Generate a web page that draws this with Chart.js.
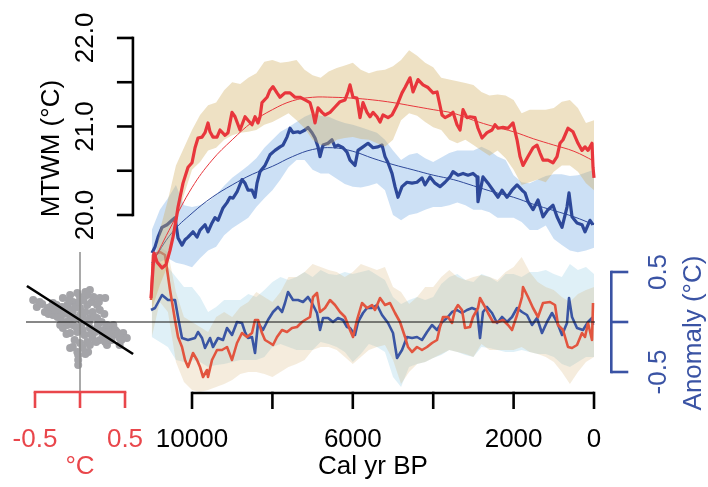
<!DOCTYPE html>
<html>
<head>
<meta charset="utf-8">
<script src="https://cdn.jsdelivr.net/npm/chart.js@4.4.1/dist/chart.umd.min.js"></script>
<style>
  html, body { margin: 0; padding: 0; background: #fff; }
  canvas { display: block; }
</style>
</head>
<body>
<canvas id="chart" width="708" height="487"></canvas>
<script>
/* ---- data (cal yr BP, °C) ---- */

// band grid (200-yr steps)
const years = [11000, 10800, 10600, 10400, 10200, 10000, 9800, 9600, 9400, 9200,
  9000, 8800, 8600, 8400, 8200, 8000, 7800, 7600, 7400, 7200,
  7000, 6800, 6600, 6400, 6200, 6000, 5800, 5600, 5400, 5200,
  5000, 4800, 4600, 4400, 4200, 4000, 3800, 3600, 3400, 3200,
  3000, 2800, 2600, 2400, 2200, 2000, 1800, 1600, 1400, 1200,
  1000, 800, 600, 400, 200, 0];

// MTWM, red record
const redYears = [11020, 10945, 10871, 10746, 10647, 10547, 10473, 10398, 10348, 10224,
  10099, 10000, 9925, 9851, 9751, 9677, 9602, 9552, 9478, 9378,
  9304, 9179, 9104, 9005, 8930, 8806, 8681, 8607, 8507, 8433,
  8358, 8308, 8259, 8134, 8060, 7985, 7886, 7811, 7687, 7562,
  7438, 7313, 7189, 7065, 6990, 6940, 6866, 6766, 6692, 6567,
  6443, 6318, 6194, 6120, 6070, 5995, 5896, 5821, 5746, 5647,
  5572, 5497, 5398, 5323, 5249, 5124, 5025, 4900, 4776, 4701,
  4577, 4502, 4378, 4254, 4129, 4005, 3905, 3781, 3706, 3582,
  3507, 3408, 3333, 3258, 3159, 3084, 2960, 2886, 2786, 2662,
  2537, 2463, 2388, 2264, 2139, 2015, 1915, 1841, 1766, 1642,
  1517, 1418, 1343, 1269, 1144, 1020, 920, 846, 771, 647,
  522, 398, 299, 224, 149, 50, 25, 0];
const redMTWM = [19.06, 19.57, 19.47, 19.40, 19.44, 19.60, 19.75, 19.94, 20.09, 20.36,
  20.54, 20.59, 20.76, 20.87, 20.88, 20.93, 21.04, 20.94, 20.88, 20.88,
  20.96, 20.90, 20.93, 21.16, 21.11, 20.96, 21.11, 21.07, 21.02, 21.11,
  21.04, 21.11, 21.27, 21.33, 21.41, 21.45, 21.38, 21.33, 21.38, 21.38,
  21.33, 21.33, 21.30, 21.27, 21.15, 21.04, 21.21, 21.16, 21.13, 21.16,
  21.22, 21.28, 21.30, 21.39, 21.47, 21.33, 21.32, 21.10, 21.27, 21.16,
  21.11, 21.16, 21.11, 21.05, 21.13, 21.10, 21.13, 21.24, 21.38, 21.44,
  21.55, 21.39, 21.53, 21.47, 21.44, 21.38, 21.39, 21.13, 21.10, 21.13,
  21.16, 21.02, 20.96, 21.19, 21.10, 21.11, 21.10, 20.98, 20.87, 20.93,
  20.96, 21.02, 20.98, 20.99, 20.98, 21.04, 20.85, 20.66, 20.56, 20.66,
  20.76, 20.79, 20.70, 20.62, 20.62, 20.59, 20.66, 20.81, 20.85, 20.98,
  20.94, 20.81, 20.73, 20.77, 20.73, 20.81, 20.54, 20.42];
const redHi = [19.27, 19.83, 20.17, 20.56, 20.76, 20.96, 21.13, 21.24, 21.27, 21.41,
  21.50, 21.48, 21.55, 21.60, 21.73, 21.75, 21.72, 21.73, 21.75, 21.64,
  21.58, 21.55, 21.62, 21.66, 21.69, 21.72, 21.64, 21.60, 21.63, 21.64,
  21.68, 21.75, 21.86, 21.80, 21.72, 21.67, 21.55, 21.53, 21.51, 21.49,
  21.47, 21.39, 21.35, 21.36, 21.35, 21.30, 21.15, 21.19, 21.19, 21.19,
  21.21, 21.28, 21.30, 21.21, 21.04, 21.07];
const redLo = [18.93, 19.21, 19.43, 19.89, 20.23, 20.51, 20.60, 20.73, 20.76, 20.85,
  20.90, 20.93, 20.94, 20.96, 21.02, 21.05, 21.10, 21.15, 21.07, 20.98,
  20.85, 20.79, 20.78, 20.85, 20.87, 20.88, 20.86, 20.85, 20.81, 20.77,
  20.85, 21.07, 21.15, 21.12, 21.05, 20.99, 20.96, 20.85, 20.81, 20.85,
  20.79, 20.73, 20.67, 20.73, 20.64, 20.51, 20.34, 20.37, 20.40, 20.37,
  20.49, 20.56, 20.56, 20.49, 20.36, 20.28];

// MTWM, blue record
const blueYears = [10995, 10920, 10846, 10746, 10622, 10498, 10423, 10348, 10249, 10174,
  10099, 9975, 9875, 9801, 9677, 9602, 9503, 9428, 9353, 9229,
  9129, 9055, 8980, 8881, 8757, 8682, 8607, 8508, 8433, 8383,
  8308, 8184, 8060, 7935, 7811, 7736, 7637, 7562, 7488, 7363,
  7313, 7189, 7115, 7015, 6940, 6866, 6816, 6741, 6617, 6518,
  6443, 6368, 6244, 6145, 6070, 5945, 5871, 5746, 5622, 5497,
  5373, 5273, 5199, 5124, 5025, 4950, 4876, 4776, 4652, 4527,
  4403, 4279, 4204, 4080, 3955, 3831, 3706, 3582, 3507, 3383,
  3258, 3134, 3010, 2910, 2886, 2761, 2637, 2512, 2388, 2289,
  2164, 2040, 1915, 1791, 1716, 1642, 1517, 1393, 1269, 1144,
  1020, 920, 796, 672, 622, 547, 423, 299, 224, 100, 25];
const blueMTWM = [19.57, 19.64, 19.75, 19.86, 19.89, 19.94, 19.97, 19.74, 19.66, 19.72,
  19.75, 19.81, 19.75, 19.83, 19.89, 19.81, 19.91, 19.97, 19.94, 20.08,
  20.14, 20.20, 20.19, 20.26, 20.40, 20.36, 20.28, 20.28, 20.20, 20.36,
  20.49, 20.56, 20.68, 20.73, 20.77, 20.79, 20.88, 20.98, 20.93, 20.94,
  20.93, 20.96, 20.99, 20.93, 20.87, 20.77, 20.66, 20.79, 20.81, 20.85,
  20.77, 20.79, 20.76, 20.71, 20.62, 20.56, 20.73, 20.77, 20.81, 20.76,
  20.77, 20.79, 20.66, 20.59, 20.47, 20.32, 20.20, 20.32, 20.37, 20.36,
  20.37, 20.42, 20.34, 20.43, 20.36, 20.32, 20.37, 20.43, 20.49, 20.45,
  20.47, 20.45, 20.47, 20.43, 20.15, 20.43, 20.36, 20.28, 20.20, 20.28,
  20.20, 20.28, 20.34, 20.28, 20.25, 20.15, 20.06, 20.17, 19.98, 20.06,
  20.11, 19.98, 19.86, 20.09, 20.25, 19.98, 19.91, 19.89, 19.81, 19.94, 19.89];
const blueHi = [19.83, 20.06, 20.19, 20.34, 20.11, 20.09, 20.11, 20.15, 20.23, 20.33,
  20.42, 20.49, 20.56, 20.64, 20.76, 20.85, 20.94, 20.99, 21.05, 21.11,
  21.15, 21.12, 21.11, 21.07, 21.04, 21.02, 20.99, 20.96, 20.93, 20.85,
  20.73, 20.62, 20.68, 20.70, 20.64, 20.60, 20.65, 20.70, 20.73, 20.73,
  20.73, 20.77, 20.73, 20.66, 20.62, 20.45, 20.37, 20.36, 20.40, 20.44,
  20.46, 20.46, 20.44, 20.45, 20.48, 20.51];
const blueLo = [19.40, 19.47, 19.51, 19.46, 19.44, 19.41, 19.51, 19.60, 19.64, 19.77,
  19.85, 19.91, 19.97, 20.09, 20.19, 20.28, 20.40, 20.54, 20.62, 20.62,
  20.51, 20.47, 20.47, 20.41, 20.35, 20.32, 20.31, 20.33, 20.36, 20.28,
  20.00, 19.94, 20.00, 20.02, 20.06, 20.09, 20.09, 20.11, 20.14, 20.11,
  20.06, 20.06, 20.03, 19.97, 19.97, 19.97, 19.92, 19.83, 19.83, 19.88,
  19.73, 19.66, 19.60, 19.58, 19.60, 19.63];

// smooth trend curves
const fitYears = [11000, 10500, 10000, 9500, 9000, 8500, 8000, 7500, 7000, 6500, 6000, 5500,
  5000, 4500, 4000, 3500, 3000, 2500, 2000, 1500, 1000, 500, 0];
const redFit = [19.44, 19.89, 20.31, 20.62, 20.85, 21.05, 21.19, 21.29, 21.33, 21.33, 21.32, 21.30,
  21.27, 21.23, 21.19, 21.15, 21.07, 21.00, 20.94, 20.86, 20.79, 20.72, 20.61];
const blueFit = [19.46, 19.80, 20.02, 20.20, 20.34, 20.46, 20.55, 20.66, 20.74, 20.76, 20.72, 20.64,
  20.57, 20.51, 20.45, 20.40, 20.33, 20.26, 20.20, 20.12, 20.05, 19.98, 19.89];

// anomalies, red record
const redAnomYears = [11020, 10970, 10796, 10672, 10547, 10423, 10348, 10249, 10174, 10099,
  9975, 9875, 9801, 9726, 9627, 9602, 9503, 9378, 9254, 9129,
  9005, 8881, 8757, 8632, 8508, 8433, 8358, 8259, 8184, 8060,
  7985, 7886, 7761, 7637, 7512, 7388, 7264, 7189, 7065, 6990,
  6891, 6816, 6692, 6567, 6443, 6318, 6194, 6070, 5995, 5896,
  5771, 5647, 5523, 5448, 5323, 5199, 5075, 4950, 4826, 4701,
  4627, 4527, 4403, 4279, 4154, 4030, 3905, 3831, 3756, 3632,
  3532, 3458, 3383, 3284, 3209, 3085, 3010, 2886, 2836, 2711,
  2637, 2512, 2388, 2264, 2139, 2040, 1915, 1791, 1766, 1642,
  1517, 1393, 1269, 1095, 970, 896, 771, 647, 547, 423,
  299, 224, 149, 50, 25];
const redAnom = [0.22, 0.67, 0.70, 0.67, 0.32, 0.02, -0.15, -0.25, -0.38, -0.45,
  -0.31, -0.38, -0.45, -0.55, -0.48, -0.55, -0.38, -0.28, -0.28, -0.25,
  -0.38, -0.21, -0.11, -0.15, -0.11, 0.02, 0.02, -0.11, -0.18, -0.21,
  -0.23, -0.15, -0.08, -0.10, -0.06, -0.05, 0.00, 0.02, 0.05, 0.25,
  0.29, 0.10, 0.14, 0.22, 0.17, 0.10, 0.05, -0.08, -0.15, 0.02,
  0.19, 0.14, 0.17, 0.12, 0.24, 0.17, 0.19, 0.09, 0.00, -0.15,
  -0.25, -0.30, -0.25, -0.28, -0.25, -0.21, -0.18, -0.05, 0.05, 0.05,
  -0.01, 0.12, 0.17, 0.12, -0.06, -0.05, 0.05, 0.14, 0.24, 0.15,
  0.09, 0.00, 0.00, 0.02, -0.03, -0.08, 0.07, 0.25, 0.35, 0.25,
  0.14, 0.05, 0.19, 0.20, 0.17, -0.03, -0.08, -0.25, -0.26, -0.23,
  -0.11, -0.15, -0.01, -0.18, 0.19];
const redAnomHi = [0.55, 0.75, 0.70, 0.30, 0.05, 0.00, -0.05, -0.10, 0.05, 0.10,
  0.05, 0.15, 0.20, 0.30, 0.25, 0.20, 0.30, 0.45, 0.45, 0.50,
  0.58, 0.55, 0.52, 0.50, 0.45, 0.50, 0.58, 0.55, 0.52, 0.55,
  0.35, 0.30, 0.18, 0.25, 0.35, 0.35, 0.45, 0.52, 0.45, 0.42,
  0.45, 0.47, 0.45, 0.42, 0.50, 0.55, 0.65, 0.50, 0.40, 0.35,
  0.32, 0.25, 0.20, 0.28, 0.32, 0.35];
const redAnomLo = [-0.15, 0.20, 0.10, -0.40, -0.60, -0.68, -0.70, -0.68, -0.65, -0.62,
  -0.58, -0.52, -0.50, -0.50, -0.52, -0.55, -0.50, -0.45, -0.42, -0.38,
  -0.28, -0.25, -0.25, -0.28, -0.35, -0.42, -0.35, -0.28, -0.25, -0.23,
  -0.38, -0.62, -0.50, -0.42, -0.40, -0.36, -0.32, -0.28, -0.30, -0.32,
  -0.35, -0.22, -0.28, -0.28, -0.28, -0.28, -0.25, -0.30, -0.32, -0.35,
  -0.40, -0.50, -0.62, -0.50, -0.40, -0.35];

// anomalies, blue record
const blueAnomYears = [11020, 10920, 10746, 10597, 10423, 10348, 10249, 10099, 9925, 9851,
  9751, 9677, 9552, 9478, 9353, 9229, 9129, 9005, 8881, 8757,
  8682, 8607, 8508, 8433, 8358, 8234, 8110, 7985, 7861, 7761,
  7687, 7612, 7488, 7363, 7239, 7115, 7015, 6891, 6816, 6741,
  6617, 6493, 6368, 6244, 6145, 6070, 5945, 5871, 5746, 5647,
  5523, 5398, 5273, 5124, 5000, 4900, 4776, 4652, 4527, 4403,
  4279, 4154, 4030, 3905, 3781, 3657, 3532, 3408, 3284, 3159,
  3035, 2910, 2836, 2761, 2662, 2537, 2413, 2289, 2164, 2040,
  1915, 1791, 1667, 1542, 1418, 1294, 1169, 1045, 920, 796,
  672, 622, 547, 423, 274, 149, 50, 25];
const blueAnom = [0.12, 0.14, 0.27, 0.22, 0.22, 0.05, -0.16, -0.18, -0.16, -0.10,
  -0.16, -0.26, -0.16, -0.25, -0.16, -0.18, -0.06, -0.13, 0.00, -0.01,
  -0.10, -0.16, -0.15, -0.31, -0.01, -0.08, 0.02, 0.10, 0.15, 0.10,
  0.19, 0.30, 0.22, 0.22, 0.20, 0.25, 0.19, 0.09, -0.08, 0.04,
  0.04, 0.00, 0.04, 0.02, -0.05, -0.06, -0.13, 0.00, 0.09, 0.14,
  0.14, 0.17, 0.07, -0.01, -0.11, -0.36, -0.28, -0.15, -0.16, -0.15,
  -0.18, -0.10, -0.03, -0.08, 0.00, 0.04, 0.10, 0.12, 0.09, 0.12,
  0.14, 0.12, -0.16, 0.10, 0.15, 0.09, -0.01, 0.05, 0.00, 0.05,
  0.14, 0.10, 0.07, -0.03, 0.04, -0.11, 0.00, 0.09, 0.00, -0.13,
  -0.01, 0.24, 0.05, -0.06, -0.08, 0.00, 0.04, -0.03];
const blueAnomHi = [0.55, 0.60, 0.55, 0.45, 0.35, 0.35, 0.25, 0.10, 0.15, 0.22,
  0.22, 0.22, 0.28, 0.25, 0.32, 0.40, 0.45, 0.42, 0.45, 0.50,
  0.45, 0.52, 0.48, 0.47, 0.50, 0.48, 0.50, 0.52, 0.47, 0.42,
  0.25, 0.18, 0.22, 0.25, 0.22, 0.25, 0.38, 0.45, 0.48, 0.42,
  0.40, 0.48, 0.45, 0.40, 0.48, 0.48, 0.45, 0.50, 0.50, 0.52,
  0.48, 0.45, 0.58, 0.52, 0.55, 0.48];
const blueAnomLo = [-0.15, -0.20, -0.25, -0.38, -0.40, -0.38, -0.40, -0.45, -0.43, -0.42,
  -0.40, -0.38, -0.38, -0.38, -0.35, -0.25, -0.22, -0.25, -0.28, -0.28,
  -0.28, -0.20, -0.22, -0.25, -0.30, -0.40, -0.32, -0.22, -0.25, -0.30,
  -0.55, -0.65, -0.45, -0.42, -0.40, -0.36, -0.33, -0.28, -0.30, -0.33,
  -0.35, -0.25, -0.26, -0.28, -0.30, -0.30, -0.28, -0.30, -0.32, -0.32,
  -0.35, -0.42, -0.45, -0.40, -0.35, -0.35];

// inset: calibration scatter (x: °C, y: anomaly °C) and its regression line
const scatX = [-0.52, -0.48, -0.39, -0.36, -0.33, -0.30, -0.26, -0.30, -0.22, -0.22,
  -0.22, -0.19, -0.19, -0.14, -0.14, -0.14, -0.11, -0.11, -0.11, -0.11,
  -0.08, -0.08, -0.08, -0.08, -0.03, -0.03, -0.03, -0.03, -0.02, -0.02,
  0.00, 0.00, 0.00, 0.03, 0.03, 0.06, 0.08, 0.08, 0.08, 0.09,
  0.11, 0.11, 0.11, 0.11, 0.13, 0.14, 0.14, 0.19, 0.19, 0.19,
  0.22, 0.22, 0.22, 0.24, 0.26, 0.28, 0.30, 0.30, 0.30, 0.33,
  0.33, 0.37, 0.37, 0.41, 0.44, 0.44, 0.48, 0.52,
  -0.45, -0.42, -0.35, -0.28, -0.25, -0.20, -0.18, -0.16, -0.12, -0.10,
  -0.07, -0.05, -0.04, -0.01, 0.01, 0.02, 0.04, 0.05, 0.06, 0.10,
  0.12, 0.15, 0.16, 0.17, 0.20, 0.21, 0.25, 0.27, 0.28, 0.32,
  0.35, 0.39, 0.42, 0.46, -0.15, -0.06, 0.03, 0.06, 0.18, -0.02];
const scatY = [0.22, 0.15, 0.10, 0.14, 0.15, 0.19, 0.17, 0.07, 0.04, 0.10,
  -0.03, 0.24, -0.06, 0.17, 0.10, -0.03, 0.27, 0.04, -0.11, -0.26,
  0.20, 0.10, -0.03, -0.25, 0.29, 0.04, -0.10, -0.30, -0.33, -0.38,
  0.25, 0.14, -0.21, 0.04, -0.08, 0.30, 0.27, 0.17, -0.20, -0.30,
  0.32, 0.04, -0.06, -0.23, 0.20, 0.10, -0.16, 0.17, 0.04, -0.06,
  0.24, 0.12, -0.18, 0.00, -0.08, 0.24, -0.03, -0.15, -0.23, -0.06,
  -0.18, -0.03, -0.13, -0.10, -0.16, -0.23, -0.11, -0.16,
  0.20, 0.18, 0.08, 0.12, 0.05, 0.15, 0.08, 0.00, 0.22, 0.12,
  0.05, 0.15, -0.05, 0.20, 0.08, -0.02, 0.22, -0.13, 0.10, 0.00,
  -0.12, 0.25, 0.05, -0.10, -0.02, 0.20, -0.12, 0.08, -0.20, -0.10,
  -0.18, -0.08, -0.12, -0.18, -0.12, -0.18, -0.26, -0.32, -0.20, -0.43];
const regX = [-0.59, 0.59];
const regY = [0.36, -0.32];

// axes
const xTicks = [10000, 8000, 6000, 4000, 2000, 0];
const xTickLabels = ['10000', '', '6000', '', '2000', '0'];
const mtwmTicks = [20, 20.5, 21, 21.5, 22];
const mtwmTickLabels = ['20.0', '', '21.0', '', '22.0'];
const anomTicks = [-0.5, 0, 0.5];
const anomTickLabels = ['-0.5', '', '0.5'];
const insetTicks = [-0.5, 0, 0.5];
const insetTickLabels = ['-0.5', '', '0.5'];

/* ---- colours ---- */
const RED = '#e8363c', BLUE = '#2d4899';
const RED_A = '#e2553f', BLUE_A = '#3a55a3';
const AXIS_RED = '#e9464b', AXIS_BLUE = '#3a53a4';
const FONT = '26px "Liberation Sans", Arial, sans-serif';

const pts = (xs, ys) => xs.map((x, i) => ({ x, y: ys[i] }));

const band = (data, yAxisID, fill, color, order) => ({
  data, yAxisID, xAxisID: 'x', fill, backgroundColor: color,
  borderWidth: 0, borderColor: 'transparent', pointRadius: 0, order,
});
const line = (data, yAxisID, color, width, order, extra = {}) => ({
  data, yAxisID, xAxisID: 'x', fill: false, borderColor: color,
  borderWidth: width, pointRadius: 0, order, tension: 0,
  borderJoinStyle: 'round', ...extra,
});

const datasets = [
  band(pts(years, blueAnomHi), 'yA', 1, 'rgba(150,205,230,0.30)', 40),   // 0
  band(pts(years, blueAnomLo), 'yA', false, 'transparent', 40),          // 1
  band(pts(years, redAnomHi), 'yA', 3, 'rgba(210,170,100,0.22)', 39),    // 2
  band(pts(years, redAnomLo), 'yA', false, 'transparent', 39),           // 3
  line(pts(blueAnomYears, blueAnom), 'yA', BLUE_A, 2.6, 30),              // 4
  line(pts(redAnomYears, redAnom), 'yA', RED_A, 2.6, 29),                 // 5
  band(pts(years, blueHi), 'y', 7, 'rgba(100,160,225,0.33)', 25),        // 6
  band(pts(years, blueLo), 'y', false, 'transparent', 25),               // 7
  line(pts(blueYears, blueMTWM), 'y', BLUE, 3.2, 24),                     // 8
  line(pts(fitYears, blueFit), 'y', BLUE, 1, 23, { tension: 0.4 }),       // 9
  band(pts(years, redHi), 'y', 11, 'rgba(210,175,100,0.38)', 22),        // 10
  band(pts(years, redLo), 'y', false, 'transparent', 22),                // 11
  line(pts(redYears, redMTWM), 'y', RED, 3.2, 21),                        // 12
  line(pts(fitYears, redFit), 'y', RED, 1, 20, { tension: 0.4 }),         // 13
  { data: pts(scatX, scatY), xAxisID: 'xIn', yAxisID: 'yA', showLine: false,  // 14
    pointRadius: 4, pointBackgroundColor: '#a4a4a8', pointBorderWidth: 0, order: 10 },
  { data: pts(regX, regY), xAxisID: 'xIn', yAxisID: 'yA', borderColor: '#000', // 15
    borderWidth: 2.6, pointRadius: 0, fill: false, order: 9 },
];
const SCATTER_INDEX = 14;

/* ---- R-style axes, reference lines and labels ---- */
function text(ctx, str, x, y, color, rotate) {
  ctx.save();
  ctx.translate(x, y);
  if (rotate) ctx.rotate(-Math.PI / 2);
  ctx.fillStyle = color;
  ctx.font = FONT;
  ctx.textAlign = 'center';
  ctx.textBaseline = 'middle';
  ctx.fillText(str, 0, 0);
  ctx.restore();
}
function seg(ctx, x1, y1, x2, y2) {
  ctx.beginPath(); ctx.moveTo(x1, y1); ctx.lineTo(x2, y2); ctx.stroke();
}

const decor = {
  id: 'decor',
  afterDatasetDraw(chart, args) {
    if (args.index !== SCATTER_INDEX) return;
    const { ctx, scales: s } = chart;
    ctx.save();
    // zero line across both panels
    ctx.strokeStyle = '#111'; ctx.lineWidth = 1;
    const y0 = s.yA.getPixelForValue(0);
    seg(ctx, s.xIn.getPixelForValue(-0.6), y0, s.x.getPixelForValue(-25), y0);
    // inset vertical zero line
    ctx.strokeStyle = '#8c8c8c'; ctx.lineWidth = 1.5;
    const xi0 = s.xIn.getPixelForValue(0);
    seg(ctx, xi0, s.yA.getPixelForValue(0.70), xi0, s.yA.getPixelForValue(-0.70));
    ctx.restore();
  },
  afterDraw(chart) {
    const { ctx, scales: s } = chart;
    const px = v => s.x.getPixelForValue(v);
    const py = v => s.y.getPixelForValue(v);
    const pa = v => s.yA.getPixelForValue(v);
    const pi = v => s.xIn.getPixelForValue(v);
    ctx.save();
    ctx.lineWidth = 2.6;
    ctx.lineCap = 'butt';

    // bottom time axis
    ctx.strokeStyle = '#000';
    const yb = pa(-0.71);
    seg(ctx, px(xTicks[0]), yb, px(xTicks[xTicks.length - 1]), yb);
    xTicks.forEach((t, i) => {
      seg(ctx, px(t), yb - 1.3, px(t), yb + 16);
      if (xTickLabels[i]) text(ctx, xTickLabels[i], px(t), yb + 47, '#000');
    });
    text(ctx, 'Cal yr BP', px(5500), yb + 74, '#000');

    // left MTWM axis
    const xl = px(11470);
    seg(ctx, xl, py(22) - 1.3, xl, py(20) + 1.3);
    mtwmTicks.forEach((t, i) => {
      seg(ctx, xl, py(t), xl - 16, py(t));
      if (mtwmTickLabels[i]) text(ctx, mtwmTickLabels[i], xl - 47, py(t), '#000', true);
    });
    text(ctx, 'MTWM (°C)', xl - 81, py(20.75), '#000', true);

    // right anomaly axis
    ctx.strokeStyle = AXIS_BLUE;
    const xr = px(-430);
    seg(ctx, xr, pa(0.5) - 1.3, xr, pa(-0.5) + 1.3);
    anomTicks.forEach((t, i) => {
      seg(ctx, xr, pa(t), xr + 17, pa(t));
      if (anomTickLabels[i]) text(ctx, anomTickLabels[i], xr + 48, pa(t), AXIS_BLUE, true);
    });
    text(ctx, 'Anomaly (°C)', xr + 83, pa(-0.11), AXIS_BLUE, true);

    // inset temperature axis
    ctx.strokeStyle = AXIS_RED;
    const yi = pa(-0.70);
    seg(ctx, pi(-0.5) - 1.3, yi, pi(0.5) + 1.3, yi);
    insetTicks.forEach((t, i) => {
      seg(ctx, pi(t), yi, pi(t), yi + 16);
      if (insetTickLabels[i]) text(ctx, insetTickLabels[i], pi(t), yi + 48, AXIS_RED);
    });
    text(ctx, '°C', pi(0), yi + 75, AXIS_RED);
    ctx.restore();
  },
};

new Chart(document.getElementById('chart').getContext('2d'), {
  type: 'line',
  data: { datasets },
  options: {
    responsive: false,
    animation: false,
    events: [],
    layout: { padding: { left: 20, right: 108, top: 30, bottom: 87 } },
    plugins: { legend: { display: false }, tooltip: { enabled: false } },
    scales: {
      x: { type: 'linear', reverse: true, min: -149, max: 14279, display: false },
      xIn: { type: 'linear', min: -0.6667, max: 5.7778, display: false },
      y: { type: 'linear', min: 17.91, max: 22.09, display: false },
      yA: { type: 'linear', min: -0.78, max: 2.92, display: false },
    },
  },
  plugins: [decor],
});
</script>
</body>
</html>
